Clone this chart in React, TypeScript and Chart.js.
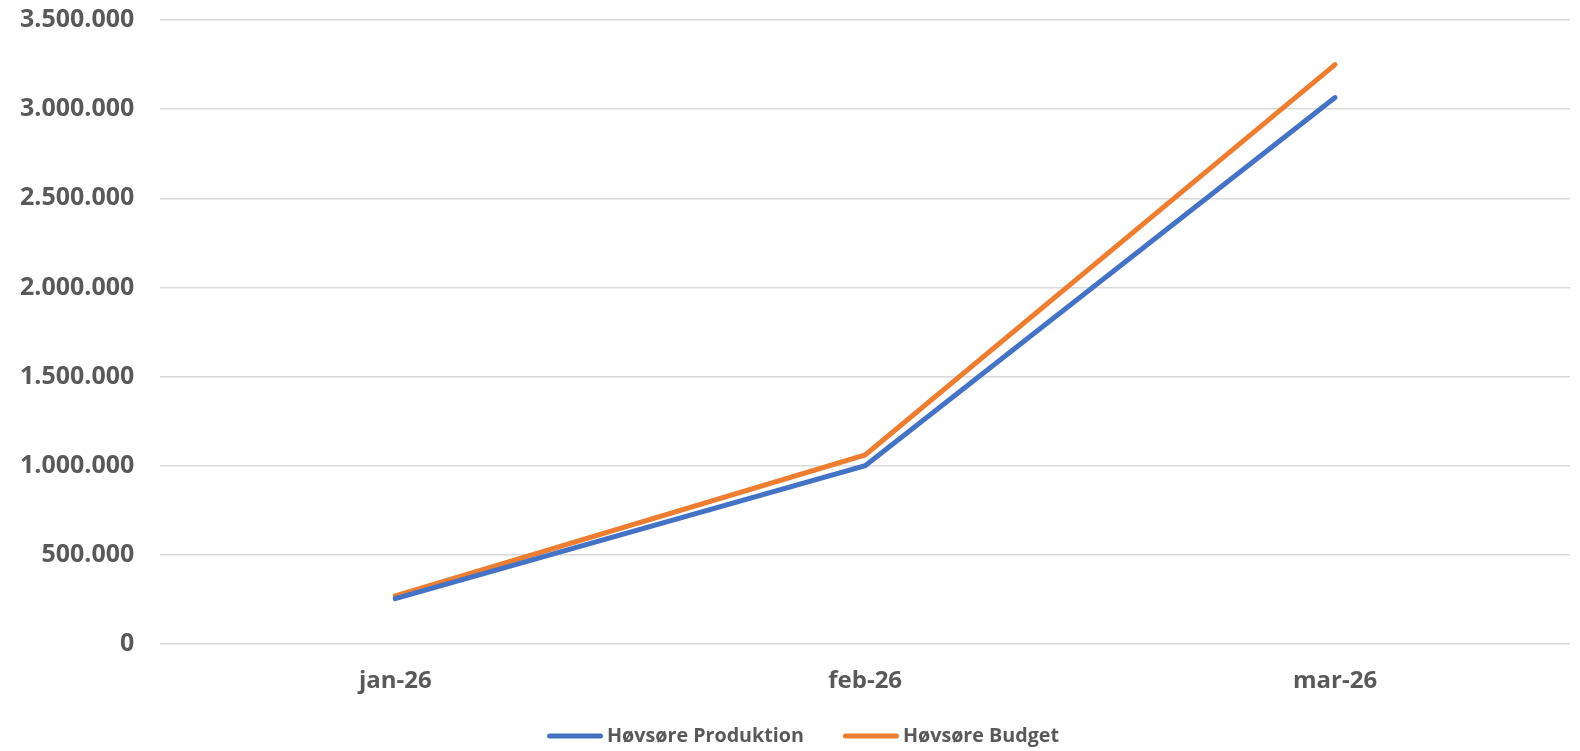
import { useEffect, useRef } from 'react'
import { Chart, registerables } from 'chart.js'

Chart.register(...registerables)

const months = ['jan-26', 'feb-26', 'mar-26']
const produktion = [254000, 1000000, 3065000]
const budget = [270000, 1060000, 3250000]
const yMax = 3500000
const yStep = 500000

const grey = '#595959'
const fontFamily = '"Open Sans", sans-serif'

const formatDots = (v: number) => String(Math.round(v)).replace(/\B(?=(\d{3})+(?!\d))/g, '.')

// legend drawn at the bottom like the Excel one: rounded line swatch + label
const bottomLegend = {
  id: 'bottomLegend',
  afterDraw(chart: Chart) {
    const { ctx } = chart
    const lineW = 56
    const gapText = 4
    const gapItem = 39
    const y = 736
    const centerX = 803
    ctx.save()
    // size the font so the first label is ~197px wide
    ctx.font = `bold 20px ${fontFamily}`
    const probe = ctx.measureText(String(chart.data.datasets[0].label)).width
    const size = Math.min(24, (20 * 197) / probe)
    ctx.font = `bold ${size}px ${fontFamily}`
    ctx.textBaseline = 'middle'
    const items = chart.data.datasets.map((ds) => ({
      text: String(ds.label),
      color: String(ds.borderColor),
      w: ctx.measureText(String(ds.label)).width,
    }))
    const total = items.reduce((s, it) => s + lineW + gapText + it.w, 0) + gapItem * (items.length - 1)
    let x = centerX - total / 2
    items.forEach((it) => {
      ctx.strokeStyle = it.color
      ctx.lineWidth = 5
      ctx.lineCap = 'round'
      ctx.beginPath()
      ctx.moveTo(x + 2.5, y)
      ctx.lineTo(x + lineW - 2.5, y)
      ctx.stroke()
      ctx.fillStyle = grey
      ctx.fillText(it.text, x + lineW + gapText, y)
      x += lineW + gapText + it.w + gapItem
    })
    ctx.restore()
  },
}

export default function App() {
  const chartRef = useRef<HTMLCanvasElement>(null)
  const chartInstance = useRef<Chart | null>(null)

  useEffect(() => {
    document.body.style.margin = '0'
    document.body.style.overflow = 'hidden'
    if (!chartRef.current) return
    if (chartInstance.current) chartInstance.current.destroy()
    const ctx = chartRef.current.getContext('2d')
    if (!ctx) return

    chartInstance.current = new Chart(ctx, {
      type: 'line',
      data: {
        labels: months,
        datasets: [
          {
            label: 'Høvsøre Produktion',
            data: produktion,
            borderColor: '#4472C4',
            backgroundColor: '#4472C4',
            borderWidth: 5,
            borderCapStyle: 'round',
            pointRadius: 0,
            tension: 0,
          },
          {
            label: 'Høvsøre Budget',
            data: budget,
            borderColor: '#ED7D31',
            backgroundColor: '#ED7D31',
            borderWidth: 5,
            borderCapStyle: 'round',
            pointRadius: 0,
            tension: 0,
          },
        ],
      },
      options: {
        animation: false,
        responsive: false,
        maintainAspectRatio: false,
        layout: { padding: { top: 0, right: 10, left: 15, bottom: 33 } },
        plugins: {
          tooltip: { enabled: false },
          legend: { display: false },
        },
        scales: {
          x: {
            offset: true,
            grid: { display: false, drawTicks: false },
            border: { display: false },
            ticks: {
              color: grey,
              padding: 25,
              font: { family: fontFamily, size: 24, weight: 'bold', lineHeight: 1 },
            },
          },
          y: {
            min: 0,
            max: yMax,
            grid: {
              color: '#d9d9d9',
              lineWidth: 1.5,
              drawTicks: true,
              tickLength: 21,
              tickColor: 'rgba(0,0,0,0)',
            },
            border: { display: false },
            ticks: {
              stepSize: yStep,
              color: grey,
              padding: 5,
              font: { family: fontFamily, size: 25, weight: 'bold' },
              callback: (value) => formatDots(Number(value)),
            },
          },
        },
      },
      plugins: [bottomLegend],
    })

    return () => {
      if (chartInstance.current) {
        chartInstance.current.destroy()
        chartInstance.current = null
      }
    }
  }, [])

  return (
    <div style={{ position: 'fixed', left: 0, top: 0, width: 1580, height: 751, background: '#fff' }}>
      <canvas ref={chartRef} width={1580} height={751} style={{ display: 'block' }} />
    </div>
  )
}
